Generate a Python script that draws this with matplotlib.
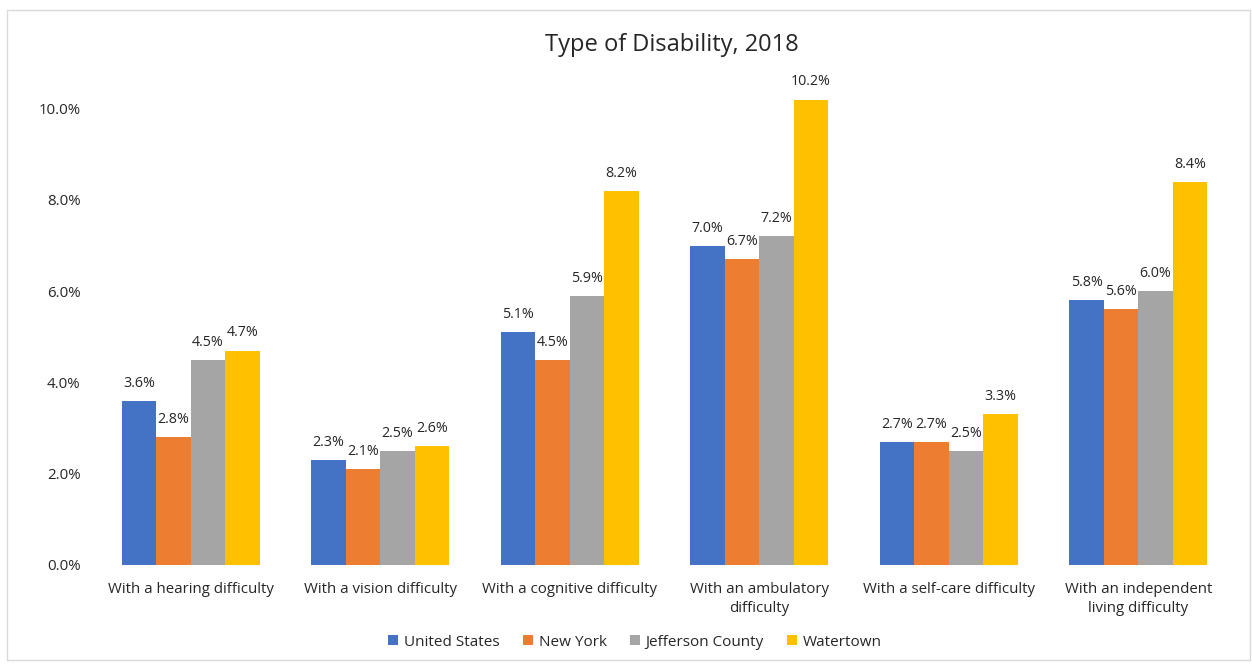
import matplotlib
matplotlib.use("Agg")
import matplotlib.pyplot as plt
import numpy as np
from matplotlib.patches import Rectangle

categories = ["With a hearing difficulty", "With a vision difficulty",
              "With a cognitive difficulty", "With an ambulatory\ndifficulty",
              "With a self-care difficulty", "With an independent\nliving difficulty"]
series_names = ["United States", "New York", "Jefferson County", "Watertown"]
us = [3.6, 2.3, 5.1, 7.0, 2.7, 5.8]
ny = [2.8, 2.1, 4.5, 6.7, 2.7, 5.6]
jc = [4.5, 2.5, 5.9, 7.2, 2.5, 6.0]
wt = [4.7, 2.6, 8.2, 10.2, 3.3, 8.4]
yticks = [0, 2, 4, 6, 8, 10]
colors = ["#4472C4", "#ED7D31", "#A5A5A5", "#FFC000"]

plt.rcParams['font.family'] = ['Open Sans', 'DejaVu Sans']

fig = plt.figure(figsize=(12.52, 6.67), dpi=100)
fig.patches.append(Rectangle((7/1252, 7/667), 1243/1252, 650/667, transform=fig.transFigure,
                             fill=False, edgecolor="#D9D9D9", linewidth=1))
ax = fig.add_axes([96/1252, 102/667, (1233-96)/1252, (565-63)/667])

x = np.arange(len(categories))
w = 0.182
data = [us, ny, jc, wt]
for i, (vals, c, name) in enumerate(zip(data, colors, series_names)):
    pos = x + (i - 1.5) * w
    ax.bar(pos, vals, width=w, color=c, label=name, edgecolor='none')
    for p, v in zip(pos, vals):
        ax.text(p, v + 0.22, f"{v:.1f}%", ha='center', va='bottom', fontsize=10.3, color='#262626')

ax.set_xlim(-0.5, len(categories) - 0.5)
ax.set_ylim(0, 11)
ax.set_yticks(yticks)
ax.set_yticklabels([f"{t:.1f}%" for t in yticks], fontsize=10.8, color='#262626')
ax.set_xticks(x)
ax.set_xticklabels(categories, fontsize=10.8, color='#262626', linespacing=1.4)
ax.tick_params(axis='both', length=0)
ax.tick_params(axis='y', pad=11)
ax.tick_params(axis='x', pad=12)
for s in ax.spines.values():
    s.set_visible(False)

fig.text(672/1252, 1 - 45/667, "Type of Disability, 2018", ha='center', va='center',
         fontsize=17, color='#262626')
fig.legend(loc='center', bbox_to_anchor=(635/1252, 1 - 642/667), ncol=4, frameon=False,
           fontsize=11, handlelength=0.65, handleheight=0.65, columnspacing=1.5, handletextpad=0.4,
           labelcolor='#262626')

fig.savefig("out.png", dpi=100)
